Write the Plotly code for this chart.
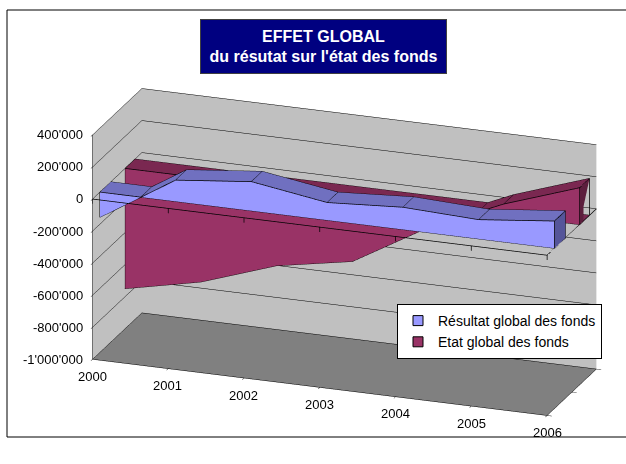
import plotly.graph_objects as go

years = [2000, 2001, 2002, 2003, 2004, 2005, 2006]
resultat = [-157000, 133000, 182000, 110000, 139000, 120000, 170000]
etat = [-750000, -650000, -490000, -405000, -135000, 70000, 230000]
z_ticks = [400000, 200000, 0, -200000, -400000, -600000, -800000, -1000000]
z_labels = ["400'000", "200'000", "0", "-200'000", "-400'000", "-600'000", "-800'000", "-1'000'000"]
series_names = ["Résultat global des fonds", "Etat global des fonds"]
title_lines = ["EFFET GLOBAL", "du résutat sur l'état des fonds"]


def outline_with_crossings(xs, vs):
    px, pv = [xs[0]], [vs[0]]
    for i in range(1, len(xs)):
        if vs[i - 1] * vs[i] < 0:
            t = vs[i - 1] / (vs[i - 1] - vs[i])
            px.append(xs[i - 1] + t * (xs[i] - xs[i - 1]))
            pv.append(0)
        px.append(xs[i])
        pv.append(vs[i])
    return px, pv


def band(xs, vs, y0, y1, c_front, c_top, c_end, name):
    px, pv = outline_with_crossings(xs, vs)
    X, Y, Z, I, J, K, C = [], [], [], [], [], [], []

    def quad(a, b, c, d, col):
        n = len(X)
        for p in (a, b, c, d):
            X.append(p[0]); Y.append(p[1]); Z.append(p[2])
        I.extend([n, n]); J.extend([n + 1, n + 2]); K.extend([n + 2, n + 3])
        C.extend([col, col])

    lx, ly, lz = [], [], []

    def seg(*pts):
        for p in pts:
            lx.append(p[0]); ly.append(p[1]); lz.append(p[2])
        lx.append(None); ly.append(None); lz.append(None)

    for i in range(len(px) - 1):
        a, b = px[i], px[i + 1]
        va, vb = pv[i], pv[i + 1]
        quad((a, y0, 0), (b, y0, 0), (b, y0, vb), (a, y0, va), c_front)
        quad((a, y0, va), (b, y0, vb), (b, y1, vb), (a, y1, va), c_top)
        quad((a, y0, 0), (b, y0, 0), (b, y1, 0), (a, y1, 0), c_top)
        seg((a, y0, va), (b, y0, vb), (b, y1, vb), (a, y1, va), (a, y0, va))
        seg((a, y0, 0), (b, y0, 0))
        seg((a, y1, 0), (b, y1, 0))
    e = px[-1]
    quad((e, y0, 0), (e, y1, 0), (e, y1, pv[-1]), (e, y0, pv[-1]), c_end)
    seg((e, y0, 0), (e, y0, pv[-1]), (e, y1, pv[-1]), (e, y1, 0), (e, y0, 0))
    s = px[0]
    seg((s, y0, 0), (s, y0, pv[0]), (s, y1, pv[0]), (s, y1, 0), (s, y0, 0))
    mesh = go.Mesh3d(x=X, y=Y, z=Z, i=I, j=J, k=K, facecolor=C, flatshading=True,
                     lighting=dict(ambient=1, diffuse=0, specular=0, fresnel=0),
                     name=name, showlegend=False, hoverinfo="skip")
    lines = go.Scatter3d(x=lx, y=ly, z=lz, mode="lines", line=dict(color="black", width=1.5),
                         showlegend=False, hoverinfo="skip")
    return [mesh, lines]


fig = go.Figure()
for tr in band(years, resultat, 0.15, 0.37, "#9999FF", "#7070C0", "#55559A", series_names[0]):
    fig.add_trace(tr)
for tr in band(years, etat, 0.66, 0.86, "#993366", "#7A2851", "#5C1E3D", series_names[1]):
    fig.add_trace(tr)

# zero-level axis frame, with its small ticks
fx, fy, fz = [years[0], years[-1], years[-1], None], [0, 0, 1, None], [0, 0, 0, None]
for yr in years:
    fx += [yr, yr, None]
    fy += [0, 0, None]
    fz += [0, -30000, None]
fig.add_trace(go.Scatter3d(x=fx, y=fy, z=fz, mode="lines",
                           line=dict(color="black", width=1.5), showlegend=False, hoverinfo="skip"))
for nm, col in zip(series_names, ["#9999FF", "#993366"]):
    fig.add_trace(go.Scatter(x=[None], y=[None], mode="markers", name=nm, xaxis="x", yaxis="y",
                             marker=dict(symbol="square", size=10, color=col, line=dict(color="black", width=1))))

FONT = "Liberation Sans, Arial, sans-serif"
axis_font = dict(family=FONT, size=13, color="black")
hidden_font = dict(family=FONT, size=1, color="rgba(0,0,0,0)")
scene_notes = []
for yr in years:
    scene_notes.append(dict(x=yr, y=0, z=z_ticks[-1], text=str(yr), showarrow=False, yshift=-17,
                            font=axis_font))
for zv, lab in zip(z_ticks, z_labels):
    scene_notes.append(dict(x=years[0], y=0, z=zv, text=lab, showarrow=False, xanchor="right", xshift=-7,
                            font=axis_font))

fig.update_layout(
    width=626, height=464, margin=dict(l=0, r=0, t=0, b=0), paper_bgcolor="white", plot_bgcolor="rgba(0,0,0,0)",
    font=axis_font,
    xaxis=dict(visible=False, domain=[0, 0.01]), yaxis=dict(visible=False, domain=[0, 0.01]),
    scene=dict(
        domain=dict(x=[0.1, 1], y=[0.017, 0.897]),
        aspectmode="manual", aspectratio=dict(x=2.37, y=0.71, z=1.17),
        camera=dict(eye=dict(x=0.54, y=-1.49, z=0.575), center=dict(x=0, y=0, z=0), up=dict(x=0, y=0, z=1),
                    projection=dict(type="orthographic")),
        xaxis=dict(title="", range=[2000, 2006], tickvals=years, showticklabels=True, tickfont=hidden_font,
                   showgrid=False, zeroline=False, showline=True, linecolor="black", ticks="outside",
                   tickcolor="black", ticklen=5, showbackground=True, backgroundcolor="#C0C0C0", showspikes=False),
        yaxis=dict(title="", range=[0, 1], tickvals=[0, 0.5, 1], showticklabels=True, tickfont=hidden_font,
                   showgrid=False, zeroline=False, showline=True, linecolor="black", ticks="outside",
                   tickcolor="black", ticklen=5, showbackground=True, backgroundcolor="#C0C0C0", showspikes=False),
        zaxis=dict(title="", range=[-1000000, 400000], tickvals=z_ticks, showticklabels=True, tickfont=hidden_font,
                   showgrid=True, gridcolor="black", gridwidth=1, zeroline=False, showline=True, linecolor="black",
                   ticks="outside", tickcolor="black", ticklen=5, showbackground=True, backgroundcolor="#808080",
                   showspikes=False),
        annotations=scene_notes,
    ),
    legend=dict(x=397 / 626, y=1 - 304 / 464, xanchor="left", yanchor="top", bgcolor="white",
                bordercolor="black", borderwidth=1, font=dict(family=FONT, size=14)),
    shapes=[dict(type="rect", xref="paper", yref="paper", x0=7 / 626, x1=1.01, y0=1 - 437 / 464, y1=1 - 10 / 464,
                 line=dict(color="black", width=1), fillcolor="rgba(0,0,0,0)")],
    annotations=[dict(xref="paper", yref="paper", x=323.5 / 626, y=1 - 19 / 464, xanchor="center", yanchor="top",
                      text="<b>" + title_lines[0] + "</b><br><b>" + title_lines[1] + "</b>", showarrow=False,
                      width=245, height=53, bgcolor="#000080", bordercolor="#404040", borderwidth=1, borderpad=0,
                      font=dict(color="white", size=16, family=FONT))],
)
fig.write_html("out.html", config=dict(displayModeBar=False), post_script="document.body.style.margin='0';")
